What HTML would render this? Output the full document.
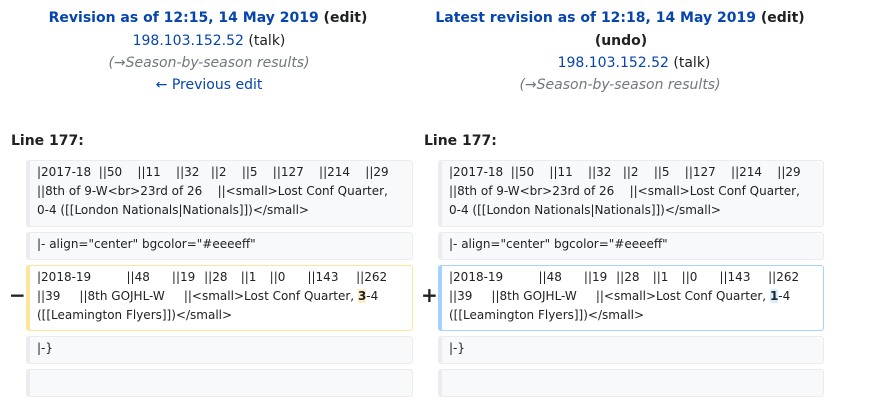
<!DOCTYPE html>
<html><head><meta charset="utf-8"><style>
body{margin:0;width:874px;height:401px;background:#fff;font-family:"DejaVu Sans","Liberation Sans",sans-serif;color:#202122;position:relative;overflow:hidden}
.c{position:absolute;white-space:nowrap;text-align:center;font-size:14px;line-height:16px;transform:translateX(-50%)}
.b{font-weight:bold}
.a{color:#0645ad}
.g{color:#72777d;font-style:italic}
.ln{position:absolute;font-weight:bold;font-size:14px;top:133px}
.box{position:absolute;box-sizing:border-box;background:#f8f9fa;border:1px solid #eaecf0;border-left:4px solid #eaecf0;border-radius:3px;font-size:12px;line-height:19px;padding:2px 0 0 7px;white-space:pre;color:#202122}
.del{background:#fff;border-color:#ffe49c}
.add{background:#fff;border-color:#a3d3ff}
.hd{background:#feeec8;font-weight:bold;border-radius:2px}
.ha{background:#d8ecff;font-weight:bold;border-radius:2px}
.m{position:absolute;font-size:20px;font-weight:bold}
.r3{word-spacing:0.6px}
</style></head><body>
<div class="c b" style="left:208px;top:10px"><span class="a">Revision as of 12:15, 14 May 2019</span> (edit)</div>
<div class="c" style="left:209px;top:33px"><span class="a">198.103.152.52</span> (talk)</div>
<div class="c g" style="left:209px;top:55px">(→Season-by-season results)</div>
<div class="c a" style="left:209px;top:77px">← Previous edit</div>

<div class="c b" style="left:620px;top:10px"><span class="a">Latest revision as of 12:18, 14 May 2019</span> (edit)</div>
<div class="c b" style="left:621px;top:33px">(undo)</div>
<div class="c" style="left:634px;top:55px"><span class="a">198.103.152.52</span> (talk)</div>
<div class="c g" style="left:620px;top:77px">(→Season-by-season results)</div>

<div class="ln" style="left:11px">Line 177:</div>
<div class="ln" style="left:424px">Line 177:</div>

<div class="box" style="left:26px;top:160px;width:387px;height:67px">|2017-18  ||50    ||11    ||32   ||2    ||5    ||127    ||214    ||29
||8th of 9-W&lt;br&gt;23rd of 26    ||&lt;small&gt;Lost Conf Quarter,
0-4 ([[London Nationals|Nationals]])&lt;/small&gt;</div>
<div class="box" style="left:26px;top:232px;width:387px;height:28px">|- align="center" bgcolor="#eeeeff"</div>
<div class="m" style="left:9px;top:283px">−</div>
<div class="box del" style="left:26px;top:265px;width:387px;height:66px"><span class="r3">|2018-19        ||48     ||19  ||28   ||1   ||0     ||143    ||262</span>
||39     ||8th GOJHL-W     ||&lt;small&gt;Lost Conf Quarter, <span class="hd">3</span>-4
([[Leamington Flyers]])&lt;/small&gt;</div>
<div class="box" style="left:26px;top:336px;width:387px;height:28px">|-}</div>
<div class="box" style="left:26px;top:369px;width:387px;height:28px"></div>

<div class="box" style="left:438px;top:160px;width:386px;height:67px">|2017-18  ||50    ||11    ||32   ||2    ||5    ||127    ||214    ||29
||8th of 9-W&lt;br&gt;23rd of 26    ||&lt;small&gt;Lost Conf Quarter,
0-4 ([[London Nationals|Nationals]])&lt;/small&gt;</div>
<div class="box" style="left:438px;top:232px;width:386px;height:28px">|- align="center" bgcolor="#eeeeff"</div>
<div class="m" style="left:421px;top:283px">+</div>
<div class="box add" style="left:438px;top:265px;width:386px;height:66px"><span class="r3">|2018-19        ||48     ||19  ||28   ||1   ||0     ||143    ||262</span>
||39     ||8th GOJHL-W     ||&lt;small&gt;Lost Conf Quarter, <span class="ha">1</span>-4
([[Leamington Flyers]])&lt;/small&gt;</div>
<div class="box" style="left:438px;top:336px;width:386px;height:28px">|-}</div>
<div class="box" style="left:438px;top:369px;width:386px;height:28px"></div>
</body></html>
